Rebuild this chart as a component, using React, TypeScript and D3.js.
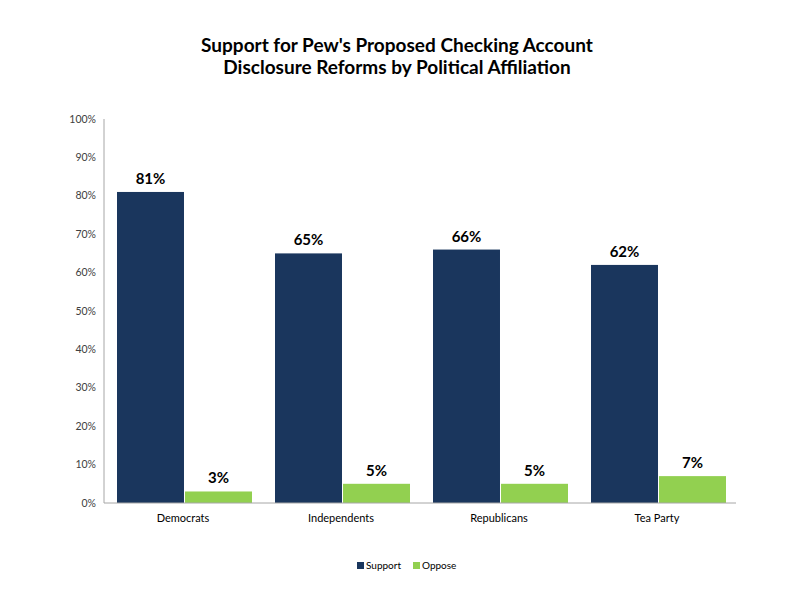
import React from "react";
import * as d3 from "d3";

const categories = ["Democrats", "Independents", "Republicans", "Tea Party"];
const support = [81, 65, 66, 62];
const oppose = [3, 5, 5, 7];
const seriesNames = ["Support", "Oppose"];
const yTicks = [0, 10, 20, 30, 40, 50, 60, 70, 80, 90, 100];

const supportColor = "#1a365d";
const opposeColor = "#92d050";
const font = "Lato, 'Open Sans', sans-serif";

const App: React.FC = () => {
  const width = 800;
  const height = 600;
  const margin = { top: 119, right: 64, bottom: 97, left: 104 };
  const innerW = width - margin.left - margin.right;
  const innerH = height - margin.top - margin.bottom;

  const x = d3.scaleBand().domain(categories).range([0, innerW]).paddingInner(0).paddingOuter(0);
  const inner = d3
    .scaleBand()
    .domain(seriesNames)
    .range([13, x.bandwidth() - 10])
    .paddingInner(0.015);
  const y = d3.scaleLinear().domain([0, 100]).range([innerH, 0]);

  const series = [
    { name: "Support", values: support, color: supportColor },
    { name: "Oppose", values: oppose, color: opposeColor },
  ];

  return (
    <svg width={width} height={height} style={{ display: "block", margin: -8 }}>
      <rect width={width} height={height} fill="#fff" />
      {/* Title */}
      <text
        x={397}
        y={52}
        textAnchor="middle"
        fontFamily={font}
        fontWeight="bold"
        fontSize={19}
        fill="#000"
      >
        Support for Pew's Proposed Checking Account
      </text>
      <text
        x={397}
        y={74}
        textAnchor="middle"
        fontFamily={font}
        fontWeight="bold"
        fontSize={19}
        fill="#000"
      >
        Disclosure Reforms by Political Affiliation
      </text>

      <g transform={`translate(${margin.left},${margin.top})`}>
        {/* y ticks */}
        {yTicks.map((t) => (
          <text
            key={t}
            x={-8}
            y={y(t)}
            dy="0.35em"
            textAnchor="end"
            fontFamily={font}
            fontSize={10.5}
            fill="#404040"
          >
            {t}%
          </text>
        ))}
        {/* bars */}
        {series.map((s) =>
          categories.map((c, i) => {
            const bx = (x(c) as number) + (inner(s.name) as number);
            const v = s.values[i];
            return (
              <g key={s.name + c}>
                <rect
                  x={bx}
                  y={y(v)}
                  width={inner.bandwidth()}
                  height={innerH - y(v)}
                  fill={s.color}
                />
                <text
                  x={bx + inner.bandwidth() / 2}
                  y={y(v) - 8}
                  textAnchor="middle"
                  fontFamily={font}
                  fontWeight="bold"
                  fontSize={15}
                  fill="#000"
                >
                  {v}%
                </text>
              </g>
            );
          })
        )}
        {/* axes */}
        <line x1={0} x2={0} y1={0} y2={innerH} stroke="#a6a6a6" />
        <line x1={0} x2={innerW} y1={innerH} y2={innerH} stroke="#a6a6a6" />
        {categories.map((c) => (
          <text
            key={c}
            x={(x(c) as number) + x.bandwidth() / 2}
            y={innerH + 19}
            textAnchor="middle"
            fontFamily={font}
            fontSize={11}
            fill="#000"
          >
            {c}
          </text>
        ))}
      </g>

      {/* legend */}
      <g transform="translate(357,562)">
        <rect x={0} y={0} width={7} height={7} fill={supportColor} />
        <text x={9} y={7} fontFamily={font} fontSize={10} fill="#000">
          Support
        </text>
        <rect x={56} y={0} width={7} height={7} fill={opposeColor} />
        <text x={65} y={7} fontFamily={font} fontSize={10} fill="#000">
          Oppose
        </text>
      </g>
    </svg>
  );
};

export default App;
